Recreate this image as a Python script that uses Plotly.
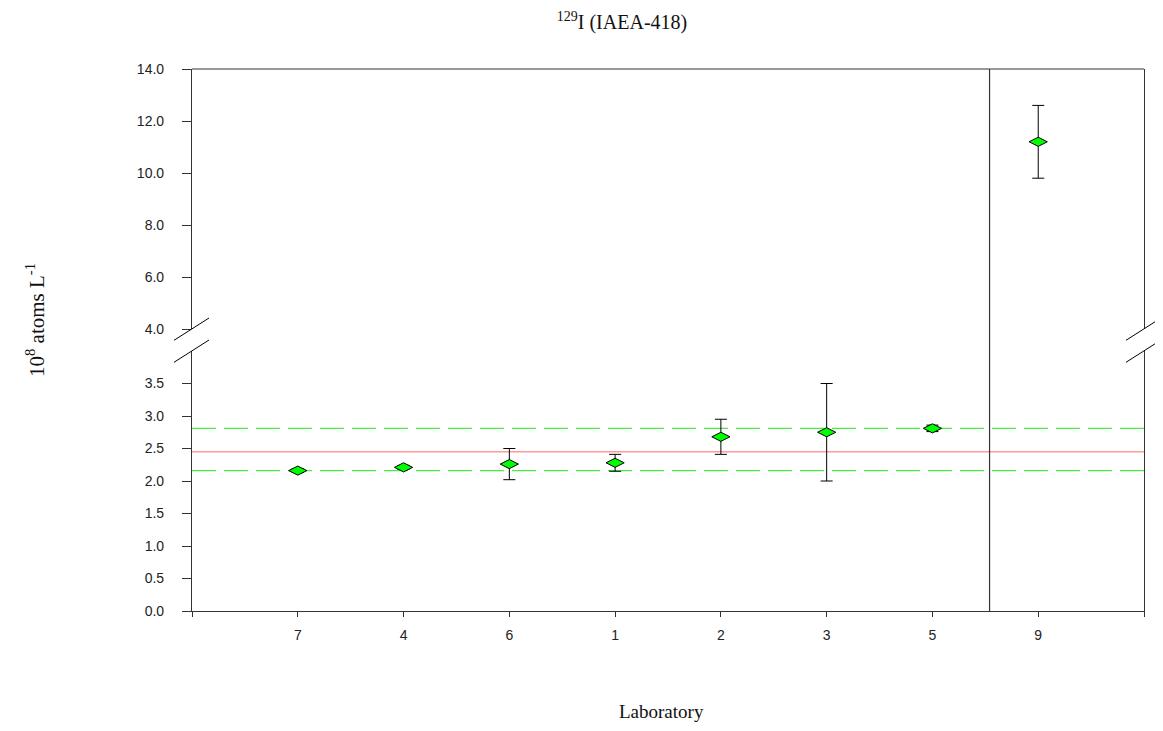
import plotly.graph_objects as go

# ---- data ----
labs = ["7", "4", "6", "1", "2", "3", "5", "9"]
values = [2.16, 2.21, 2.26, 2.28, 2.68, 2.75, 2.81, 11.2]
errors = [0.03, 0.03, 0.24, 0.13, 0.27, 0.75, 0.05, 1.40]
ref_value = 2.45
ref_upper = 2.81
ref_lower = 2.16
divider_pos = 7.54

lower_ticks = [0.0, 0.5, 1.0, 1.5, 2.0, 2.5, 3.0, 3.5]
upper_ticks = [4.0, 6.0, 8.0, 10.0, 12.0, 14.0]
lower_range = [0.0, 4.0]
upper_range = [4.0, 14.0]

xpos = list(range(1, len(labs) + 1))
x_range = [0, len(labs) + 1]
x_edge_ticks = [0, len(labs) + 1]

# page has an 8px body margin; compensate so plot lands where the reference has it
OFF = 8
WIN_W, WIN_H = 1163, 731
W, H = WIN_W - 2 * OFF, WIN_H - 2 * OFF
PL, PR, PT, PB = 192, 1144, 69, 611          # plot area in window pixels
ML, MT = PL - OFF, PT - OFF
MR = (OFF + W) - PR
MB = (OFF + H) - PB
pw = PR - PL
plot_h = PB - PT
gap = 22
half = (plot_h - gap) / 2.0
lower_dom = [0.0, half / plot_h]
upper_dom = [(half + gap) / plot_h, 1.0]

tick_font = dict(family="Liberation Sans, Arial, sans-serif", size=14, color="#222222")
serif = "Liberation Serif, Times New Roman, serif"
axis_col = "#333333"

marker = dict(symbol="diamond-wide", size=13, color="#00FF00",
              line=dict(color="#000000", width=1))
err = dict(type="data", array=errors, visible=True, color="#000000",
           thickness=1, width=6)

fig = go.Figure()
fig.add_trace(go.Scatter(x=xpos, y=values, mode="markers", marker=marker,
                         error_y=err, xaxis="x", yaxis="y", showlegend=False))
fig.add_trace(go.Scatter(x=xpos, y=values, mode="markers", marker=marker,
                         error_y=err, xaxis="x", yaxis="y2", showlegend=False))

# reference value and limits (lower panel)
fig.add_shape(type="line", xref="x", yref="y", x0=x_range[0], x1=x_range[1],
              y0=ref_value, y1=ref_value, line=dict(color="#FF9A9A", width=1.6),
              layer="below")
for v in (ref_upper, ref_lower):
    fig.add_shape(type="line", xref="x", yref="y", x0=x_range[0], x1=x_range[1],
                  y0=v, y1=v, line=dict(color="#44EE44", width=1.2, dash="24px,8px"),
                  layer="below")

# vertical divider across both panels
fig.add_shape(type="line", xref="x", yref="paper", x0=divider_pos, x1=divider_pos,
              y0=0, y1=1, line=dict(color=axis_col, width=1.2))

# top border of upper panel
fig.add_shape(type="line", xref="paper", yref="paper", x0=0, x1=1, y0=1, y1=1,
              line=dict(color=axis_col, width=1.2))

# axis break marks
def px_x(dx):
    return dx / pw
def px_y(dy):
    return dy / plot_h
for xc in (0.0, 1.0):
    for yc in (upper_dom[0], lower_dom[1]):
        fig.add_shape(type="line", xref="paper", yref="paper",
                      x0=xc - px_x(18), x1=xc + px_x(17),
                      y0=yc - px_y(11.3), y1=yc + px_y(11),
                      line=dict(color="#000000", width=1))

fig.update_layout(
    width=W, height=H,
    margin=dict(l=ML, r=MR, t=MT, b=MB, autoexpand=False),
    paper_bgcolor="white", plot_bgcolor="white",
    showlegend=False,
    title=dict(text="<sup>129</sup>I (IAEA-418)", xref="container", yref="container",
               x=(622 - OFF) / W, y=1 - (22 - OFF) / H, xanchor="center", yanchor="middle",
               font=dict(family=serif, size=20, color="#111111")),
    xaxis=dict(range=x_range, tickvals=xpos, ticktext=labs,
               showgrid=False, zeroline=False, showline=True, linecolor=axis_col,
               linewidth=1.2, ticks="outside", ticklen=5, tickcolor=axis_col,
               tickfont=tick_font, anchor="y", ticklabelstandoff=6,
               minor=dict(tickvals=x_edge_ticks, ticks="outside", ticklen=5,
                          tickcolor=axis_col, showgrid=False)),
    yaxis=dict(domain=lower_dom, range=lower_range, tickvals=lower_ticks,
               ticktext=[f"{v:.1f}" for v in lower_ticks],
               showgrid=False, zeroline=False, showline=True, mirror=True,
               linecolor=axis_col, linewidth=1.2, ticks="outside", ticklen=9,
               tickcolor=axis_col, tickfont=tick_font, anchor="x",
               ticklabelstandoff=15),
    yaxis2=dict(domain=upper_dom, range=upper_range, tickvals=upper_ticks,
                ticktext=[f"{v:.1f}" for v in upper_ticks],
                showgrid=False, zeroline=False, showline=True, mirror=True,
                linecolor=axis_col, linewidth=1.2, ticks="outside", ticklen=9,
                tickcolor=axis_col, tickfont=tick_font, anchor="x",
                ticklabelstandoff=15),
    annotations=[
        dict(text="Laboratory", xref="paper", yref="paper",
             x=(661 - PL) / pw, y=-(711 - PB) / plot_h,
             xanchor="center", yanchor="middle", showarrow=False,
             font=dict(family=serif, size=19, color="#111111")),
        dict(text="10<sup>8</sup> atoms L<sup>-1</sup>", xref="paper", yref="paper",
             x=(35 - PL) / pw, y=(PB - 320) / plot_h, textangle=-90,
             xanchor="center", yanchor="middle", showarrow=False,
             font=dict(family=serif, size=21, color="#111111")),
    ],
)

fig.write_html("out.html")
